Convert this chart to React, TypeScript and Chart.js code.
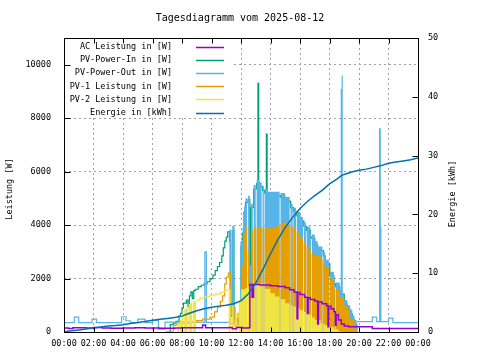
import React, { useEffect, useRef } from 'react';
import { Chart, registerables } from 'chart.js';

Chart.register(...registerables);

// ---------- text ----------
const TITLE = 'Tagesdiagramm vom 2025-08-12';
const Y_TITLE = 'Leistung [W]';
const Y2_TITLE = 'Energie [kWh]';
const LABEL_AC = 'AC Leistung in [W]';
const LABEL_IN = 'PV-Power-In in [W]';
const LABEL_OUT = 'PV-Power-Out in [W]';
const LABEL_PV1 = 'PV-1 Leistung in [W]';
const LABEL_PV2 = 'PV-2 Leistung in [W]';
const LABEL_E = 'Energie in [kWh]';

// ---------- ticks ----------
const HOUR_TICKS = [0, 2, 4, 6, 8, 10, 12, 14, 16, 18, 20, 22, 24];
const POWER_TICKS = [0, 2000, 4000, 6000, 8000, 10000];
const ENERGY_TICKS = [0, 10, 20, 30, 40, 50];

// ---------- data: [hour, value] ----------
const energyKWh: [number, number][] = [
  [0, 0.05], [0.5, 0.2], [1, 0.35], [1.5, 0.5], [2, 0.7], [2.5, 0.85], [3, 1.0], [3.5, 1.1],
  [4, 1.25], [4.5, 1.45], [5, 1.6], [5.5, 1.8], [6, 2.0], [6.5, 2.15], [7, 2.3], [7.5, 2.45],
  [8, 2.7], [8.5, 3.2], [9, 3.6], [9.5, 3.95], [10, 4.2], [10.5, 4.4], [11, 4.55], [11.5, 4.8],
  [12, 5.3], [12.5, 6.5], [13, 8.3], [13.5, 10.7], [14, 13.3], [14.5, 15.7], [15, 17.8],
  [15.5, 19.5], [16, 21.0], [16.5, 22.2], [17, 23.2], [17.5, 24.1], [18, 25.2], [18.5, 26.0],
  [18.8, 26.6], [19, 26.8], [19.5, 27.2], [20, 27.5], [20.5, 27.7], [21, 28.0], [21.5, 28.3],
  [22, 28.7], [22.5, 28.9], [23, 29.1], [23.5, 29.3], [24, 29.6],
];

const acPower: [number, number][] = [
  [0, 150], [0.3, 130], [0.6, 160], [1.5, 150], [2.0, 170], [2.6, 150], [3.2, 140], [4.0, 150],
  [4.8, 160], [5.5, 150], [6.5, 140], [7.5, 150], [8.0, 160], [9.4, 260], [9.6, 160], [11.2, 170],
  [11.4, 120], [11.7, 170], [12.1, 150], [12.5, 160], [12.6, 1780], [12.75, 1300], [12.85, 1780],
  [13.3, 1760], [14.0, 1730], [14.5, 1700], [15.0, 1660], [15.3, 1580], [15.6, 1500], [15.8, 500],
  [15.85, 1480], [16.0, 1400], [16.3, 1300], [16.5, 700], [16.55, 1280], [16.7, 1220], [17.0, 1160],
  [17.2, 300], [17.25, 1120], [17.5, 1060], [17.8, 980], [17.9, 200], [17.95, 960], [18.1, 870],
  [18.3, 760], [18.4, 250], [18.45, 650], [18.6, 450], [18.8, 300], [19.0, 220], [19.3, 200],
  [20.9, 130], [24, 130],
];

const pvIn: [number, number][] = [
  [6.9, 0], [7.2, 280], [7.4, 330], [7.6, 400], [7.8, 600], [7.9, 700], [8.0, 900], [8.1, 1080],
  [8.3, 1190], [8.4, 950], [8.5, 1350], [8.6, 1500], [8.7, 1250], [8.8, 1550], [8.9, 1600],
  [9.1, 1700], [9.3, 1750], [9.5, 1800], [9.7, 1880], [9.9, 2000], [10.1, 2130], [10.25, 2300],
  [10.4, 2450], [10.55, 2600], [10.7, 2850], [10.8, 3150], [10.9, 3400], [11.0, 3550], [11.1, 3750],
  [11.22, 3400], [11.3, 600], [11.45, 3800], [11.52, 500], [11.8, 400], [12.0, 3200], [12.1, 3700],
  [12.2, 4500], [12.3, 4850], [12.48, 4950], [12.6, 2300], [12.68, 4650], [12.86, 5350],
  [13.06, 5550], [13.15, 9300], [13.2, 5450], [13.46, 5300], [13.6, 5200], [13.72, 7400],
  [13.77, 5100], [14.68, 5050], [15.0, 4900], [15.36, 4650], [15.55, 4500], [15.78, 4350],
  [16.0, 4150], [16.26, 3950], [16.45, 3800], [16.7, 3550], [16.8, 3500], [17.0, 3250],
  [17.2, 3050], [17.58, 2850], [17.7, 2550], [18.02, 2100], [18.3, 1800], [18.42, 1700],
  [18.7, 1420], [19.0, 1050], [19.2, 850], [19.4, 670], [19.55, 450], [19.7, 300], [19.85, 0],
];

const pvOut: [number, number][] = [
  [0, 350], [0.7, 560], [1.0, 350], [1.9, 480], [2.2, 350], [3.9, 570], [4.2, 420], [4.5, 350],
  [5.0, 480], [5.5, 350], [6.0, 430], [6.4, 110], [6.85, 370], [9.5, 360], [9.55, 3000],
  [9.65, 360], [11.2, 380], [11.25, 3800], [11.32, 600], [11.45, 3950], [11.52, 450], [11.8, 300],
  [12.0, 3400], [12.1, 3900], [12.2, 4700], [12.3, 5000], [12.42, 0], [12.48, 5100], [12.6, 2500],
  [12.68, 4800], [12.8, 0], [12.86, 5500], [13.0, 0], [13.06, 5700], [13.25, 5600], [13.4, 0],
  [13.46, 5450], [13.55, 0], [13.6, 5350], [13.8, 5250], [14.2, 5250], [14.62, 0], [14.68, 5200],
  [15.0, 5050], [15.3, 0], [15.36, 4800], [15.5, 0], [15.55, 4650], [15.73, 0], [15.78, 4500],
  [16.0, 4300], [16.2, 0], [16.26, 4100], [16.4, 0], [16.45, 3950], [16.7, 3700], [16.74, 0],
  [16.8, 3650], [17.0, 3400], [17.2, 3200], [17.52, 0], [17.58, 3000], [17.7, 2700], [17.96, 0],
  [18.02, 2250], [18.3, 1950], [18.36, 0], [18.42, 1850], [18.7, 1570], [18.76, 9100],
  [18.82, 9600], [18.9, 1400], [19.0, 1200], [19.2, 1000], [19.4, 820], [19.55, 600], [19.7, 450],
  [19.85, 385], [20.9, 560], [21.2, 385], [21.4, 7600], [21.44, 3900], [21.48, 385], [22.0, 520],
  [22.3, 350], [24, 350],
];

const pv1: [number, number][] = [
  [7.2, 0], [7.4, 250], [7.6, 300], [8.0, 330], [8.5, 370], [9.0, 430], [9.4, 480], [9.9, 560],
  [10.2, 750], [10.4, 930], [10.6, 1150], [10.75, 1350], [10.9, 1800], [11.0, 2050], [11.15, 2200],
  [11.3, 300], [11.5, 900], [11.6, 200], [11.8, 700], [11.95, 150],
  [12.1, 2500], [12.2, 3700], [12.3, 4000], [12.42, 0], [12.48, 3000], [12.6, 1800], [12.68, 3800],
  [12.8, 0], [12.86, 3900], [13.0, 0], [13.06, 3900], [13.4, 0], [13.46, 3880], [13.55, 0],
  [13.6, 3880], [14.0, 3900], [14.4, 4000], [14.62, 0], [14.68, 4030], [14.85, 4100], [15.2, 3990],
  [15.3, 0], [15.36, 3950], [15.5, 0], [15.55, 3900], [15.73, 0], [15.78, 3750], [16.0, 3540],
  [16.2, 0], [16.26, 3350], [16.4, 0], [16.45, 3200], [16.7, 2980], [16.74, 0], [16.8, 2950],
  [17.0, 2850], [17.4, 2690], [17.52, 0], [17.58, 2600], [17.7, 2400], [17.96, 0], [18.02, 2000],
  [18.3, 1700], [18.36, 0], [18.42, 1600], [18.7, 1310], [19.0, 1000], [19.2, 820], [19.4, 450],
  [19.7, 75], [19.9, 0],
];

const pv2: [number, number][] = [
  [7.6, 0], [7.7, 300], [7.8, 0], [7.85, 450], [8.0, 700], [8.1, 0], [8.15, 850], [8.3, 1000],
  [8.4, 0], [8.45, 1050], [8.6, 1100], [8.7, 0], [8.75, 1150], [8.95, 1190],
  [9.2, 1270], [9.6, 1330], [9.9, 1380], [10.3, 1430], [10.6, 1490], [10.9, 1570], [11.1, 1600],
  [11.15, 1600], [11.3, 0], [11.4, 1000], [11.5, 0], [11.6, 700], [11.75, 0], [11.85, 1200],
  [12.0, 1600], [12.3, 1650], [12.42, 0], [12.48, 1700], [12.8, 0], [12.86, 1750], [13.0, 0],
  [13.06, 1800], [13.25, 1830], [13.4, 0], [13.46, 1700], [13.55, 0], [13.6, 1620], [14.0, 1450],
  [14.3, 1330], [14.62, 0], [14.68, 1230], [15.0, 1080], [15.3, 0], [15.36, 1000], [15.5, 0],
  [15.55, 950], [15.73, 0], [15.78, 880], [16.0, 820], [16.2, 0], [16.26, 750], [16.4, 0],
  [16.45, 650], [16.74, 0], [16.8, 540], [17.0, 450], [17.4, 330], [17.52, 0], [17.58, 300],
  [17.7, 250], [18.0, 190], [18.3, 100], [18.6, 30], [18.8, 0],
];

// time windows (hours) in which the dense switching of a series shows as a filled band
const PV_OUT_BAND: [number, number][] = [[12.0, 19.85]];
const PV1_BAND: [number, number][] = [[12.1, 19.9]];
const PV2_BAND: [number, number][] = [[7.6, 8.95], [11.15, 18.8]];

// ---------- style ----------
const C_AC = '#9400d3';
const C_IN = '#009e73';
const C_OUT = '#56b4e9';
const C_PV1 = '#e69f00';
const C_PV2 = '#f0e442';
const C_E = '#0072b2';
const FONT = "'DejaVu Sans Mono', monospace";
const FONT_SIZE = 8.5;

const LEGEND = [
  { label: LABEL_AC, color: C_AC },
  { label: LABEL_IN, color: C_IN },
  { label: LABEL_OUT, color: C_OUT },
  { label: LABEL_PV1, color: C_PV1 },
  { label: LABEL_PV2, color: C_PV2 },
  { label: LABEL_E, color: C_E },
];

function toPoints(arr: [number, number][]) {
  return arr.map(([x, y]) => ({ x, y }));
}

function outsideBands(arr: [number, number][], bands: [number, number][]) {
  const out: { x: number; y: number | null }[] = [];
  for (const [x, y] of arr) {
    if (bands.some(([a, b]) => x > a && x < b)) continue;
    out.push({ x, y });
    if (bands.some(([a]) => x === a)) out.push({ x: x + 0.001, y: null });
  }
  return out;
}

function insideBand(arr: [number, number][], band: [number, number]) {
  return arr.filter(([x]) => x >= band[0] && x <= band[1]).map(([x, y]) => ({ x, y }));
}

function hourLabel(v: number) {
  const h = Math.round(v) % 24;
  return `${h < 10 ? '0' : ''}${h}:00`;
}

const decorPlugin = {
  id: 'gnuplotDecor',
  afterDraw(chart: any) {
    const { ctx, chartArea: a, scales } = chart;
    const L = Math.round(a.left) + 0.5;
    const R = Math.round(a.right) + 0.5;
    const T = Math.round(a.top) + 0.5;
    const B = Math.round(a.bottom) + 0.5;
    ctx.save();

    // key (opaque)
    ctx.fillStyle = '#ffffff';
    ctx.fillRect(L, T, 168, 78);
    ctx.font = `${FONT_SIZE}px ${FONT}`;
    ctx.textBaseline = 'middle';
    ctx.textAlign = 'right';
    LEGEND.forEach((item, i) => {
      const y = 47 + i * 13.1;
      ctx.fillStyle = '#000';
      ctx.fillText(item.label, 172, y);
      ctx.strokeStyle = item.color;
      ctx.lineWidth = 1.5;
      ctx.beginPath();
      ctx.moveTo(196, Math.round(y) + 0.5);
      ctx.lineTo(224, Math.round(y) + 0.5);
      ctx.stroke();
    });

    // border + inward ticks
    ctx.strokeStyle = '#000';
    ctx.lineWidth = 1;
    ctx.strokeRect(L, T, R - L, B - T);
    ctx.beginPath();
    POWER_TICKS.forEach((v) => {
      const y = Math.round(scales.y.getPixelForValue(v)) + 0.5;
      ctx.moveTo(L, y);
      ctx.lineTo(L + 6, y);
    });
    ENERGY_TICKS.forEach((v) => {
      const y = Math.round(scales.y1.getPixelForValue(v)) + 0.5;
      ctx.moveTo(R, y);
      ctx.lineTo(R - 6, y);
    });
    HOUR_TICKS.forEach((v) => {
      const x = Math.round(scales.x.getPixelForValue(v)) + 0.5;
      ctx.moveTo(x, B);
      ctx.lineTo(x, B - 5);
      ctx.moveTo(x, T);
      ctx.lineTo(x, T + 5);
    });
    ctx.stroke();

    // title
    ctx.fillStyle = '#000';
    ctx.textAlign = 'center';
    ctx.textBaseline = 'middle';
    ctx.font = `10px ${FONT}`;
    ctx.fillText(TITLE, 240, 18);

    // axis titles
    ctx.font = `${FONT_SIZE}px ${FONT}`;
    ctx.save();
    ctx.translate(10, 189);
    ctx.rotate(-Math.PI / 2);
    ctx.fillText(Y_TITLE, 0, 0);
    ctx.restore();
    ctx.save();
    ctx.translate(453, 194);
    ctx.rotate(-Math.PI / 2);
    ctx.fillText(Y2_TITLE, 0, 0);
    ctx.restore();

    ctx.restore();
  },
};

export default function App() {
  const canvasRef = useRef<HTMLCanvasElement | null>(null);

  useEffect(() => {
    const canvas = canvasRef.current;
    if (!canvas) return;

    const base = { pointRadius: 0, pointHoverRadius: 0, tension: 0, yAxisID: 'y' };
    const datasets: any[] = [
      { ...base, label: LABEL_E, data: toPoints(energyKWh), yAxisID: 'y1', borderColor: C_E, borderWidth: 1.5, fill: false, order: 1 },
      { ...base, label: LABEL_AC, data: toPoints(acPower), borderColor: C_AC, borderWidth: 1.5, stepped: true, fill: false, order: 5 },
      { ...base, label: LABEL_PV2, data: outsideBands(pv2, PV2_BAND), borderColor: C_PV2, borderWidth: 1.2, stepped: true, fill: false, order: 6.9 },
      ...PV2_BAND.map((band) => ({ ...base, label: LABEL_PV2, data: insideBand(pv2, band), borderColor: 'rgba(0,0,0,0)', borderWidth: 0, backgroundColor: C_PV2, stepped: true, fill: 'origin', order: 7 })),
      { ...base, label: LABEL_PV1, data: outsideBands(pv1, PV1_BAND), borderColor: C_PV1, borderWidth: 1.2, stepped: true, fill: false, order: 7.9 },
      ...PV1_BAND.map((band) => ({ ...base, label: LABEL_PV1, data: insideBand(pv1, band), borderColor: 'rgba(0,0,0,0)', borderWidth: 0, backgroundColor: C_PV1, stepped: true, fill: 'origin', order: 8 })),
      { ...base, label: LABEL_OUT, data: outsideBands(pvOut, PV_OUT_BAND), borderColor: C_OUT, borderWidth: 1.2, stepped: true, fill: false, order: 8.9 },
      ...PV_OUT_BAND.map((band) => ({ ...base, label: LABEL_OUT, data: insideBand(pvOut, band), borderColor: 'rgba(0,0,0,0)', borderWidth: 0, backgroundColor: C_OUT, stepped: true, fill: 'origin', order: 9 })),
      { ...base, label: LABEL_IN, data: toPoints(pvIn), borderColor: C_IN, borderWidth: 1.2, stepped: true, fill: false, order: 10 },
    ];

    const tickFont = { family: FONT, size: FONT_SIZE };
    const gridCommon = { color: '#a0a0a0', lineWidth: 1, drawTicks: false };

    const chart = new Chart(canvas, {
      type: 'line',
      data: { datasets },
      options: {
        animation: false,
        responsive: false,
        devicePixelRatio: 1,
        events: [],
        layout: { padding: { top: 38, left: 0, right: 0, bottom: 0 } },
        plugins: { legend: { display: false }, tooltip: { enabled: false }, title: { display: false } },
        scales: {
          x: {
            type: 'linear',
            min: 0,
            max: 24,
            afterBuildTicks: (s: any) => { s.ticks = HOUR_TICKS.map((value) => ({ value })); },
            afterFit: (s: any) => { s.height = 28; },
            ticks: { callback: (v: any) => hourLabel(Number(v)), font: tickFont, color: '#000', padding: 7, maxRotation: 0, minRotation: 0, autoSkip: false },
            grid: gridCommon,
            border: { display: false, dash: [2, 3] },
          },
          y: {
            type: 'linear',
            position: 'left',
            min: 0,
            max: 11000,
            afterBuildTicks: (s: any) => { s.ticks = POWER_TICKS.map((value) => ({ value })); },
            afterFit: (s: any) => { s.width = 64; },
            ticks: { callback: (v: any) => String(v), font: tickFont, color: '#000', padding: 13 },
            grid: gridCommon,
            border: { display: false, dash: [2, 3] },
          },
          y1: {
            type: 'linear',
            position: 'right',
            min: 0,
            max: 50,
            afterBuildTicks: (s: any) => { s.ticks = ENERGY_TICKS.map((value) => ({ value })); },
            afterFit: (s: any) => { s.width = 62; },
            ticks: { callback: (v: any) => String(v), font: tickFont, color: '#000', padding: 10 },
            grid: { display: false, drawOnChartArea: false, drawTicks: false },
            border: { display: false },
          },
        },
      },
      plugins: [decorPlugin],
    } as any);

    return () => chart.destroy();
  }, []);

  return (
    <div style={{ position: 'fixed', left: 0, top: 0, width: 480, height: 360, background: '#ffffff' }}>
      <canvas ref={canvasRef} width={480} height={360} style={{ display: 'block', width: 480, height: 360 }} />
    </div>
  );
}
